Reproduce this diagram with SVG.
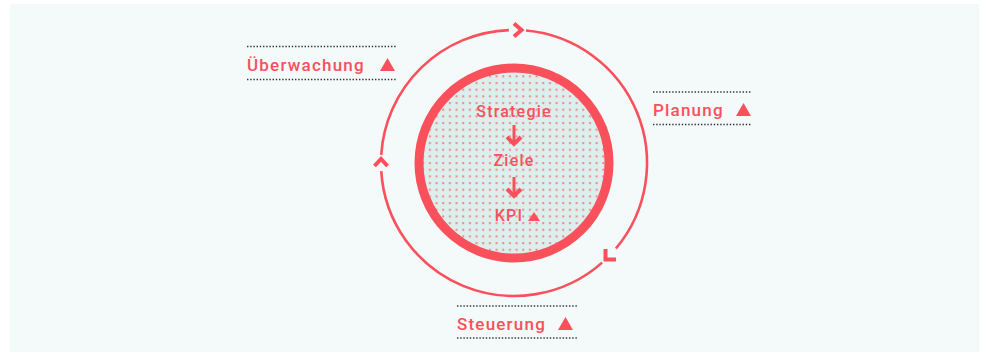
<svg xmlns="http://www.w3.org/2000/svg" width="989" height="356" viewBox="0 0 989 356">
  <defs>
    <pattern id="dots" x="0" y="0" width="6.67" height="6.67" patternUnits="userSpaceOnUse">
      <rect width="6.67" height="6.67" fill="#dcefec"/>
      <rect x="2" y="2" width="2" height="2" fill="#f1858d"/>
    </pattern>
    <style>
      .lbl { font-family: Roboto, "Liberation Sans", Arial, sans-serif; font-weight: 500; font-size: 17px; fill: #f9505b; letter-spacing: 1.2px; }
      .in { font-family: Roboto, "Liberation Sans", Arial, sans-serif; font-weight: 500; font-size: 16px; fill: #f9505b; letter-spacing: 1.2px; text-anchor: middle; }
      .dot { stroke: #333; stroke-width: 1.4; stroke-dasharray: 1.4 1.8; fill: none; }
      .tri { fill: #f9505b; }
      .ring { fill: none; stroke: #f9505b; stroke-width: 2.6; }
      .chev { fill: none; stroke: #f9505b; stroke-width: 4; stroke-linejoin: miter; }
    </style>
  </defs>
  <rect x="10" y="4" width="969" height="348" fill="#f4f9f9"/>

  <g id="connectors">
    <path class="ring" d="M526.05 30.55 A133 133 0 0 1 615.9 248.5"/>
    <path class="ring" d="M602.1 262.6 A133 133 0 0 1 381.25 171.1"/>
    <path class="ring" d="M381.25 154.9 A133 133 0 0 1 508.9 30.1"/>
    <polyline class="chev" points="514,23.5 521.5,30 514,36.5"/>
    <polyline class="chev" points="616,259.5 605.5,259.5 605.5,249"/>
    <polyline class="chev" points="374.5,166 381,159 387.5,166"/>
  </g>

  <g id="core">
    <circle cx="514" cy="163" r="95" fill="url(#dots)" stroke="#f9505b" stroke-width="9"/>
    <text class="in" x="514" y="117">Strategie</text>
    <text class="in" x="514" y="166">Ziele</text>
    <text class="in" x="509" y="221">KPI</text>
    <polygon class="tri" points="528,221 534,212 540,221"/>
    <line x1="514" y1="125" x2="514" y2="142" stroke="#f9505b" stroke-width="3"/>
    <polyline class="chev" points="507,137 514,144 521,137"/>
    <line x1="514" y1="177" x2="514" y2="194" stroke="#f9505b" stroke-width="3"/>
    <polyline class="chev" points="507,189 514,196 521,189"/>
  </g>

  <g id="ueberwachung">
    <line class="dot" x1="247" y1="46.5" x2="397" y2="46.5"/>
    <text class="lbl" x="247" y="71">Überwachung</text>
    <polygon class="tri" points="380,71 387.5,58 395,71"/>
    <line class="dot" x1="247" y1="79.5" x2="397" y2="79.5"/>
  </g>

  <g id="planung">
    <line class="dot" x1="653" y1="92" x2="752" y2="92"/>
    <text class="lbl" x="653" y="116">Planung</text>
    <polygon class="tri" points="736,116 743.5,103 751,116"/>
    <line class="dot" x1="653" y1="124.5" x2="752" y2="124.5"/>
  </g>

  <g id="steuerung">
    <line class="dot" x1="457" y1="306" x2="578" y2="306"/>
    <text class="lbl" x="457" y="330">Steuerung</text>
    <polygon class="tri" points="558,330 565.5,317 573,330"/>
    <line class="dot" x1="457" y1="338" x2="578" y2="338"/>
  </g>
</svg>
